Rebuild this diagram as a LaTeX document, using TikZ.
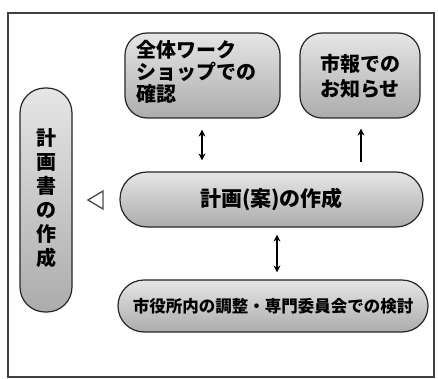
\documentclass[tikz,border=0pt]{standalone}
\usepackage{fontspec}
\newfontfamily\cjk{Noto Sans CJK JP}
\usetikzlibrary{arrows.meta}
\begin{document}
\begin{tikzpicture}[x=1pt,y=-1pt,
  pill/.style={draw=black!85, line width=1.2pt, rounded corners=22pt, top color=gray!20, bottom color=gray!65, inner sep=0pt},
  lbl/.style={font=\cjk\bfseries, text=black},
  dbl/.style={{Stealth[length=7pt,width=7pt]}-{Stealth[length=7pt,width=7pt]}, line width=1.4pt},
  sgl/.style={-{Stealth[length=7pt,width=7pt]}, line width=1.4pt}]
\useasboundingbox (0,0) rectangle (438,379);
\draw[gray!50!black, line width=1.5pt] (8,13) rectangle (434,377);
% nodes
\node[pill, minimum width=155pt, minimum height=85pt] (ws) at (202.5,75.5) {};
\node[lbl, font=\cjk\bfseries\fontsize{20}{22}\selectfont, align=left, anchor=north west] (wst) at (133,37) {全体ワーク\\ショップでの\\確認};
\node[pill, minimum width=120pt, minimum height=85pt] (sh) at (360,75.5) {};
\node[lbl, font=\cjk\bfseries\fontsize{20}{25}\selectfont, align=left] (sht) at (360,76) {市報での\\お知らせ};
\node[pill, rounded corners=25pt, minimum width=52pt, minimum height=224pt] (lf) at (46,200) {};
\node[lbl, font=\cjk\bfseries\fontsize{20}{24}\selectfont, align=center] (lft) at (46,198) {計\\画\\書\\の\\作\\成};
\node[pill, rounded corners=27pt, minimum width=303pt, minimum height=55pt] (md) at (271.5,199.5) {\cjk\bfseries\fontsize{21}{22}\selectfont 計画(案)の作成};
\node[pill, rounded corners=26pt, minimum width=310pt, minimum height=52pt] (bt) at (273,306) {\cjk\bfseries\fontsize{16.5}{18}\selectfont 市役所内の調整・専門委員会での検討};
% connectors
\draw[dbl] ([yshift=-11pt]ws.south -| 202,0) -- ([yshift=11pt]md.north -| 202,0);
\draw[sgl] ([yshift=9pt]md.north -| 361,0) -- ([yshift=-10pt]sh.south -| 361,0);
\draw[dbl] ([yshift=-7pt]md.south -| 277,0) -- ([yshift=7pt]bt.north -| 277,0);
\coordinate (tri) at (97,200);
\draw[black!70, line width=1.3pt, fill=white] ([xshift=-9pt]tri) -- ([xshift=6pt,yshift=-9pt]tri) -- ([xshift=6pt,yshift=9pt]tri) -- cycle;
\end{tikzpicture}
\end{document}
